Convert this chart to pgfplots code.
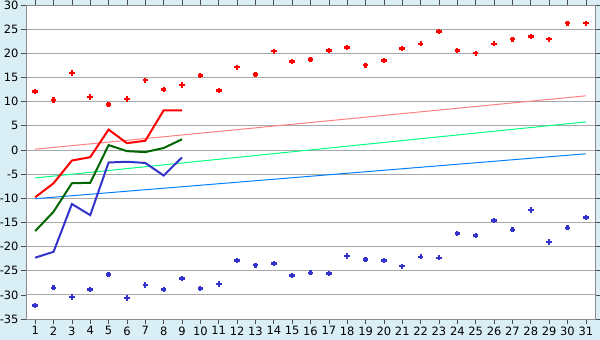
\documentclass[border=0pt]{standalone}
\usepackage{pgfplots}
\pgfplotsset{compat=1.18}
\usepackage{fontspec}
\setmainfont{DejaVu Sans}
\definecolor{bgc}{HTML}{DAEEF5}
\definecolor{gridc}{HTML}{A8A8A8}
\definecolor{redc}{HTML}{FF0000}
\definecolor{greenc}{HTML}{006600}
\definecolor{bluec}{HTML}{3333CC}
\definecolor{pinkc}{HTML}{FF8080}
\definecolor{lgreenc}{HTML}{00FF80}
\definecolor{lbluec}{HTML}{0080FF}
\definecolor{ptblue}{HTML}{3333CC}
\begin{document}
\begin{tikzpicture}
\path[use as bounding box, fill=bgc] (-26bp,-21bp) rectangle (574bp,319bp);
\begin{axis}[
  at={(0,0)}, anchor=south west,
  scale only axis, width=569bp, height=314bp,
  xmin=0.5, xmax=31.5, ymin=-35, ymax=30,
  xtick={1,...,31}, ytick={-35,-30,...,30},
  tick align=outside, major tick length=5bp,
  tick style={color=black!70, line width=0.6pt},
  ymajorgrids, grid style={gridc, line width=0.8pt},
  axis background/.style={fill=white},
  axis line style={color=black!45, line width=0.8pt},
  /pgf/number format/assume math mode=true,
  ticklabel style={font=\fontsize{11.5}{13}\selectfont},
  yticklabel style={xshift=1bp},
  xticklabel style={yshift=1bp},
  clip=false,
]
% trend lines
\addplot[pinkc, line width=1pt] coordinates {(1,0.15) (31,11.2)};
\addplot[lgreenc, line width=1pt] coordinates {(1,-5.8) (31,5.8)};
\addplot[lbluec, line width=1pt] coordinates {(1,-10.1) (31,-0.8)};
% thick lines
\addplot[redc, line width=2pt] coordinates {(1,-9.8) (2,-6.9) (3,-2.2) (4,-1.5) (5,4.2) (6,1.4) (7,1.9) (8,8.2) (9,8.2)};
\addplot[greenc, line width=2pt] coordinates {(1,-16.8) (2,-12.8) (3,-6.9) (4,-6.8) (5,1.0) (6,-0.25) (7,-0.45) (8,0.4) (9,2.2)};
\addplot[bluec, line width=2pt] coordinates {(1,-22.3) (2,-21.1) (3,-11.2) (4,-13.5) (5,-2.6) (6,-2.45) (7,-2.7) (8,-5.3) (9,-1.55)};
% max points
\addplot[only marks, mark=+, mark size=2.8bp, redc, line width=2.2bp] coordinates {
(1,12.1) (2,10.3) (3,15.9) (4,10.9) (5,9.4) (6,10.5) (7,14.4) (8,12.5) (9,13.4) (10,15.4)
(11,12.3) (12,17.1) (13,15.6) (14,20.4) (15,18.3) (16,18.7) (17,20.6) (18,21.2) (19,17.5) (20,18.5)
(21,21.0) (22,22.0) (23,24.5) (24,20.6) (25,20.0) (26,22.0) (27,22.9) (28,23.5) (29,22.9) (30,26.2) (31,26.2)};
% min points
\addplot[only marks, mark=+, mark size=2.8bp, ptblue, line width=2.2bp] coordinates {
(1,-32.2) (2,-28.5) (3,-30.5) (4,-28.9) (5,-25.8) (6,-30.7) (7,-28.0) (8,-28.9) (9,-26.6) (10,-28.7)
(11,-27.8) (12,-22.9) (13,-23.9) (14,-23.5) (15,-26.0) (16,-25.4) (17,-25.6) (18,-21.9) (19,-22.7) (20,-22.9)
(21,-24.1) (22,-22.1) (23,-22.3) (24,-17.3) (25,-17.7) (26,-14.6) (27,-16.5) (28,-12.4) (29,-19.0) (30,-16.1) (31,-14.0)};
\end{axis}
\end{tikzpicture}
\end{document}
